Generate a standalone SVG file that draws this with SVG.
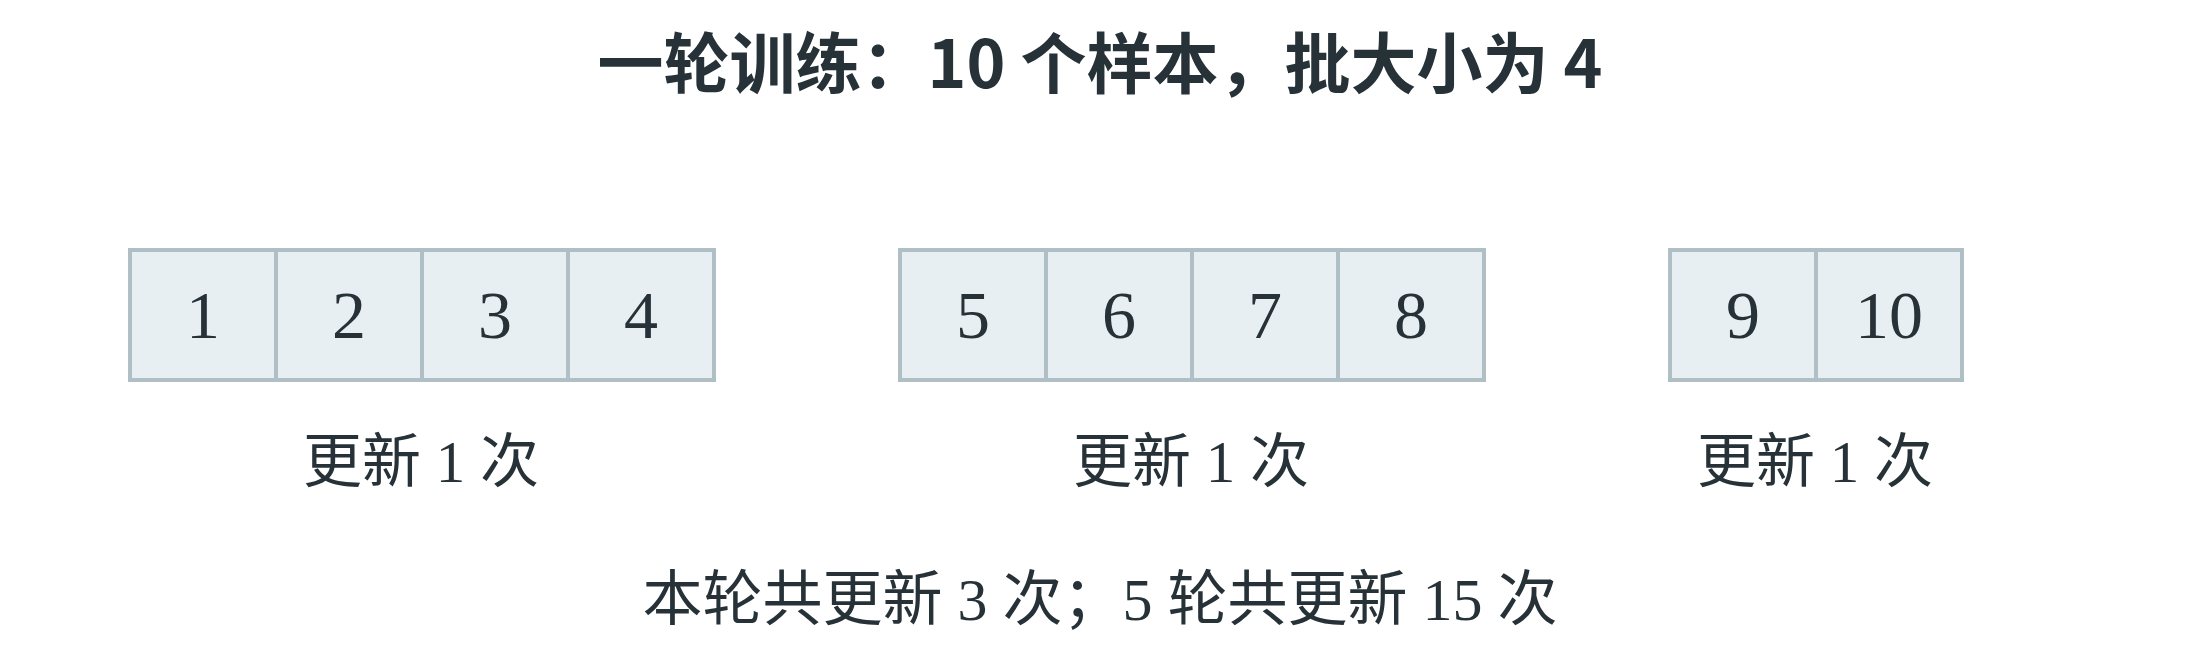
<svg xmlns="http://www.w3.org/2000/svg" width="2200" height="670" viewBox="0 0 2200 670">
<style>
.bg{fill:#ffffff}
.cell{fill:#e8eff2;stroke:#b0bec5;stroke-width:4}
.num{font-family:'Liberation Serif','Noto Sans CJK SC',serif;font-size:68px;fill:#263238;text-anchor:middle}
.lbl{font-family:'Liberation Serif','Noto Sans CJK SC',serif;font-size:59px;fill:#263238;text-anchor:middle}
.sum{font-family:'Liberation Serif','Noto Sans CJK SC',serif;font-size:60px;fill:#263238;text-anchor:middle}
.title{font-family:'Noto Sans CJK SC','Noto Sans',sans-serif;font-size:66px;font-weight:700;fill:#263238;text-anchor:middle}
</style>
<rect class="bg" x="0" y="0" width="2200" height="670"/>
<g id="title"><text class="title" x="1100" y="88">一轮训练：10 个样本，批大小为 4</text></g>
<g id="batch1">
<g id="s1"><rect class="cell" x="130" y="250" width="146" height="130"/><text class="num" x="203" y="338">1</text></g>
<g id="s2"><rect class="cell" x="276" y="250" width="146" height="130"/><text class="num" x="349" y="338">2</text></g>
<g id="s3"><rect class="cell" x="422" y="250" width="146" height="130"/><text class="num" x="495" y="338">3</text></g>
<g id="s4"><rect class="cell" x="568" y="250" width="146" height="130"/><text class="num" x="641" y="338">4</text></g>
<text class="lbl" x="421" y="482">更新 1 次</text>
</g>
<g id="batch2">
<g id="s5"><rect class="cell" x="900" y="250" width="146" height="130"/><text class="num" x="973" y="338">5</text></g>
<g id="s6"><rect class="cell" x="1046" y="250" width="146" height="130"/><text class="num" x="1119" y="338">6</text></g>
<g id="s7"><rect class="cell" x="1192" y="250" width="146" height="130"/><text class="num" x="1265" y="338">7</text></g>
<g id="s8"><rect class="cell" x="1338" y="250" width="146" height="130"/><text class="num" x="1411" y="338">8</text></g>
<text class="lbl" x="1191" y="482">更新 1 次</text>
</g>
<g id="batch3">
<g id="s9"><rect class="cell" x="1670" y="250" width="146" height="130"/><text class="num" x="1743" y="338">9</text></g>
<g id="s10"><rect class="cell" x="1816" y="250" width="146" height="130"/><text class="num" x="1889" y="338">10</text></g>
<text class="lbl" x="1815" y="482">更新 1 次</text>
</g>
<g id="summary"><text class="sum" x="1100" y="620">本轮共更新 3 次；5 轮共更新 15 次</text></g>
</svg>
